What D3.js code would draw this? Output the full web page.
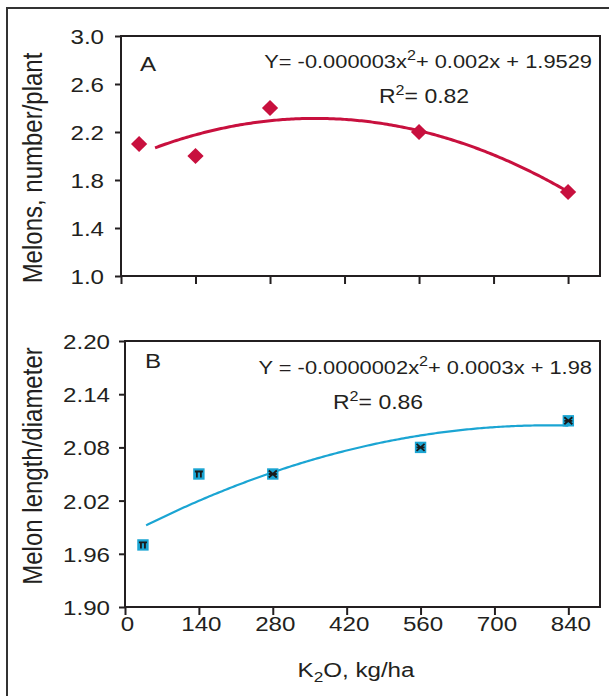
<!DOCTYPE html>
<html>
<head>
<meta charset="utf-8">
<script src="https://cdn.jsdelivr.net/npm/d3@7"></script>
<style>
  body { margin: 0; background: #fff; }
  svg text { font-family: 'Liberation Sans', Arial, sans-serif; fill: #231f20; }
</style>
</head>
<body>
<div id="chart"></div>
<script>
// K2O rate (kg/ha) for each treatment
const potassium = [34, 140, 280, 560, 840];
// Panel A: melons per plant
const melonsPerPlant = [2.1, 2.0, 2.4, 2.2, 1.7];
// Panel B: melon length/diameter ratio
const lengthDiameter = [1.97, 2.05, 2.05, 2.08, 2.11];

const xTicks = [0, 140, 280, 420, 560, 700, 840];
const yTicksA = [1.0, 1.4, 1.8, 2.2, 2.6, 3.0];
const yTicksB = [1.90, 1.96, 2.02, 2.08, 2.14, 2.20];

// where each trend line starts
const trendStartA = 64;
const trendStartB = 40;

const eqA = { pre: 'Y= -0.000003x', post: '+ 0.002x + 1.9529', r2: '= 0.82' };
const eqB = { pre: 'Y = -0.0000002x', post: '+ 0.0003x + 1.98', r2: '= 0.86' };

const width = 609, height = 696;
const sx = 1.15; // the source image is slightly stretched horizontally

const svg = d3.select('#chart').append('svg')
    .attr('width', width)
    .attr('height', height);

// outer frame, cut off at the right and bottom edges
svg.append('rect')
    .attr('x', 7).attr('y', 8)
    .attr('width', 620).attr('height', 700)
    .attr('fill', 'none')
    .attr('stroke', '#333')
    .attr('stroke-width', 2);

// least squares quadratic fit, same as a spreadsheet trendline
function quadFit(xs, ys) {
    let s = [0, 0, 0, 0, 0], t = [0, 0, 0];
    xs.forEach((x, i) => {
        for (let k = 0; k <= 4; k++) s[k] += Math.pow(x, k);
        for (let k = 0; k <= 2; k++) t[k] += Math.pow(x, k) * ys[i];
    });
    // solve 3x3 with Cramer's rule
    const m = [[s[0], s[1], s[2]], [s[1], s[2], s[3]], [s[2], s[3], s[4]]];
    const det = a => a[0][0] * (a[1][1] * a[2][2] - a[1][2] * a[2][1])
        - a[0][1] * (a[1][0] * a[2][2] - a[1][2] * a[2][0])
        + a[0][2] * (a[1][0] * a[2][1] - a[1][1] * a[2][0]);
    const D = det(m);
    const coef = [0, 1, 2].map(c => det(m.map((row, r) => row.map((v, j) => j === c ? t[r] : v))) / D);
    return x => coef[0] + coef[1] * x + coef[2] * x * x;
}

function stretchedText(g, x, y) {
    return g.append('text')
        .attr('transform', `translate(${x},${y}) scale(${sx},1)`);
}

function drawPanel(cfg) {
    const x = d3.scaleLinear().domain([0, 900]).range([cfg.left, 600]);
    const y = d3.scaleLinear().domain(cfg.yDomain).range([cfg.bottom, cfg.top]);
    const g = svg.append('g');

    // y axis
    const yAxisG = g.append('g')
        .attr('transform', `translate(${cfg.left},0)`)
        .call(d3.axisLeft(y).tickValues(cfg.yTicks).tickSize(6).tickSizeOuter(0).tickFormat(d3.format(cfg.fmt)));
    yAxisG.select('.domain').remove();
    yAxisG.selectAll('.tick line').attr('stroke', '#231f20').attr('stroke-width', 2);
    yAxisG.selectAll('.tick text')
        .attr('x', -cfg.labelGap / sx)
        .attr('dy', '0.36em')
        .attr('transform', `scale(${sx},1)`)
        .style('font-size', '21px')
        .attr('fill', '#231f20');

    // x axis
    const xAxisG = g.append('g')
        .attr('transform', `translate(0,${cfg.bottom})`)
        .call(d3.axisBottom(x).tickValues(xTicks).tickSize(8).tickSizeOuter(0)
            .tickFormat(cfg.xLabels ? d3.format('d') : ''));
    xAxisG.select('.domain').remove();
    xAxisG.selectAll('.tick line').attr('stroke', '#231f20').attr('stroke-width', 2);
    xAxisG.selectAll('.tick text')
        .attr('y', 9)
        .attr('x', 2 / sx)
        .attr('transform', `scale(${sx},1)`)
        .style('font-size', '21px')
        .attr('fill', '#231f20');

    // plot frame
    g.append('rect')
        .attr('x', cfg.left).attr('y', cfg.top)
        .attr('width', 600 - cfg.left).attr('height', cfg.bottom - cfg.top)
        .attr('fill', 'none')
        .attr('stroke', '#231f20')
        .attr('stroke-width', 2);

    // trend line
    const fit = quadFit(potassium, cfg.values);
    const xs = d3.range(cfg.trendStart, 840.1, 4);
    g.append('path')
        .datum(xs)
        .attr('fill', 'none')
        .attr('stroke', cfg.color)
        .attr('stroke-width', cfg.lineWidth)
        .attr('d', d3.line().x(d => x(d)).y(d => y(fit(d))));

    // markers
    const pts = potassium.map((k, i) => ({ k: k, v: cfg.values[i], i: i }));
    if (cfg.marker === 'diamond') {
        g.selectAll('.pt')
            .data(pts)
            .join('path')
            .attr('class', 'pt')
            .attr('transform', d => `translate(${x(d.k)},${y(d.v)}) rotate(45)`)
            .attr('d', d3.symbol(d3.symbolSquare, 132))
            .attr('fill', cfg.color);
    } else {
        g.selectAll('.pt')
            .data(pts)
            .join('path')
            .attr('class', 'pt')
            .attr('transform', d => `translate(${x(d.k)},${y(d.v)})`)
            .attr('d', d3.symbol(d3.symbolSquare, 130))
            .attr('fill', cfg.color);
        // overlaid black glyphs from the hidden series
        g.selectAll('.glyph')
            .data(pts)
            .join('path')
            .attr('class', 'glyph')
            .attr('transform', d => `translate(${x(d.k)},${y(d.v)})`)
            .attr('d', d => d.i < 2
                ? 'M-4,-2.5H4M-2,-2.5V3.5M2,-2.5V3.5'
                : 'M-4,-3.5L4,3.5M-4,3.5L4,-3.5M-4,0H4')
            .attr('fill', 'none')
            .attr('stroke', '#1a1a1a')
            .attr('stroke-width', 1.8);
    }

    // panel letter
    stretchedText(g, cfg.letterX, cfg.letterY)
        .style('font-size', '21px')
        .text(cfg.letter);

    // equation
    const eq = stretchedText(g, cfg.eqRight, cfg.eqY)
        .attr('text-anchor', 'end')
        .style('font-size', '19px');
    eq.append('tspan').text(cfg.eq.pre);
    eq.append('tspan').attr('dy', -8).style('font-size', '14px').text('2');
    eq.append('tspan').attr('dy', 8).text(cfg.eq.post);

    const r2 = stretchedText(g, cfg.r2X, cfg.r2Y)
        .style('font-size', '20px');
    r2.append('tspan').text('R');
    r2.append('tspan').attr('dy', -8).style('font-size', '14px').text('2');
    r2.append('tspan').attr('dy', 8).text(cfg.eq.r2);

    // y axis title
    g.append('text')
        .attr('transform', `translate(42,${cfg.titleY}) scale(${sx},1) rotate(-90)`)
        .attr('text-anchor', 'middle')
        .style('font-size', '24px')
        .text(cfg.yTitle);
}

drawPanel({
    left: 121, top: 36, bottom: 276,
    yDomain: [1.0, 3.0], yTicks: yTicksA, fmt: '.1f',
    labelGap: 17, xLabels: false,
    values: melonsPerPlant, trendStart: trendStartA,
    color: '#c8103e', lineWidth: 3, marker: 'diamond',
    letter: 'A', letterX: 140, letterY: 71,
    eq: eqA, eqRight: 592, eqY: 68, r2X: 379, r2Y: 103,
    yTitle: 'Melons, number/plant', titleY: 168
});

drawPanel({
    left: 125, top: 341, bottom: 607,
    yDomain: [1.90, 2.20], yTicks: yTicksB, fmt: '.2f',
    labelGap: 15, xLabels: true,
    values: lengthDiameter, trendStart: trendStartB,
    color: '#1ba5d3', lineWidth: 2.2, marker: 'square',
    letter: 'B', letterX: 145, letterY: 368,
    eq: eqB, eqRight: 592, eqY: 374, r2X: 333, r2Y: 409,
    yTitle: 'Melon length/diameter', titleY: 466
});

// x axis title with subscript
const xt = svg.append('text')
    .attr('transform', `translate(356,677) scale(${sx},1)`)
    .attr('text-anchor', 'middle')
    .style('font-size', '21px');
xt.append('tspan').text('K');
xt.append('tspan').attr('dy', 5).style('font-size', '15px').text('2');
xt.append('tspan').attr('dy', -5).text('O, kg/ha');
</script>
</body>
</html>
